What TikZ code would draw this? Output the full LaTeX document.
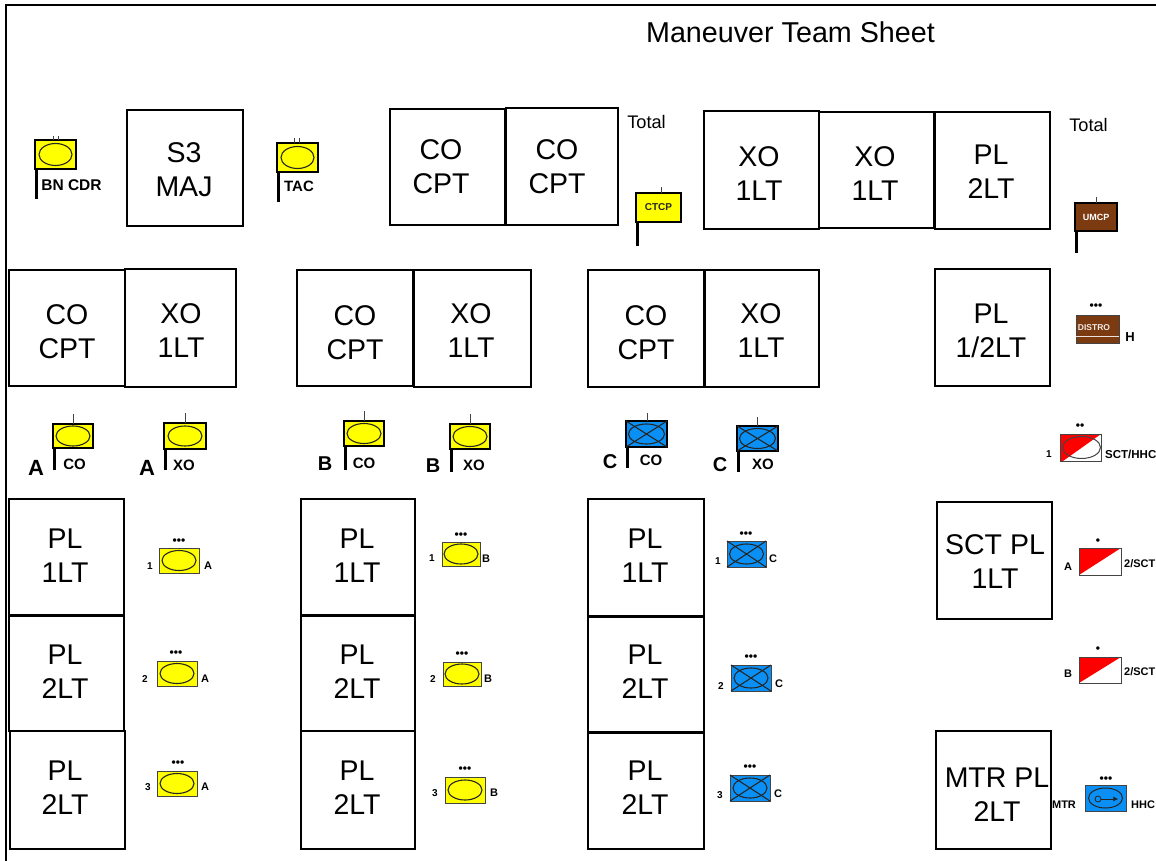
\documentclass[tikz,border=0pt]{standalone}
\usepackage{fontspec}
\usetikzlibrary{arrows.meta}
\setmainfont{Liberation Sans}
\definecolor{symyellow}{HTML}{FFFF00}
\definecolor{symblue}{HTML}{0A90F5}
\definecolor{symbrown}{HTML}{7B3A10}
\definecolor{symred}{HTML}{FF0000}
\definecolor{edgegray}{HTML}{444444}
\tikzset{
  x=1pt,y=-1pt,
  sheetbox/.style={draw=black,line width=2pt,inner sep=0pt,outer sep=0pt},
  boxtext/.style={inner sep=0pt,align=center,font=\fontsize{28.5}{34}\selectfont},
  symbox/.style={draw=black,line width=1.5pt,inner sep=0pt,outer sep=0pt},
  platbox/.style={draw=edgegray,line width=1pt,inner sep=0pt,outer sep=0pt},
  pole/.style={line width=3pt,black},
  staff/.style={line width=.8pt,edgegray},
  oval/.style={draw=black!85,line width=1.1pt},
  lab/.style={inner sep=0pt,font=\bfseries\fontsize{#1}{#1}\selectfont},
  lab/.default=12,
  dots/.style={inner sep=0pt,font=\bfseries\fontsize{12}{12}\selectfont},
  plain/.style={inner sep=0pt,font=\fontsize{#1}{#1}\selectfont},
}
% name x0 y0 x1 y1 textx texty line1 line2
\newcommand{\bx}[9]{%
  \node[sheetbox,minimum width={(#4-#2)*1pt},minimum height={(#5-#3)*1pt}] (#1) at ({(#2+#4)/2+.5},{(#3+#5)/2+.5}) {};
  \node[boxtext] (#1t) at (#6,#7) {#8\\#9};}
% name x0 y0 x1 y1 style-with-fill
\newcommand{\sy}[6]{%
  \node[#6,minimum width={(#4-#2)*1pt},minimum height={(#5-#3)*1pt}] (#1) at ({(#2+#4)/2},{(#3+#5)/2}) {};}
% name x0 y0 x1 y1 colour poleEnd tickX tickTop
\newcommand{\flagsym}[9]{%
  \sy{#1}{#2}{#3}{#4}{#5}{symbox,fill=#6}
  \draw[pole] (#1.south west) ++(1,0) -- ++(0,{#7-#5});
  \draw[staff] (#8,#3) -- (#8,#9);}
\newcommand{\ov}[3]{\draw[oval] (#1.center) ellipse [x radius=#2pt,y radius=#3pt];}
\newcommand{\crs}[1]{\draw[oval] (#1.north west) -- (#1.south east) (#1.south west) -- (#1.north east);}
\newcommand{\plat}[6]{\sy{#1}{#2}{#3}{#4}{#5}{platbox,fill=#6}}
\begin{document}
\begin{tikzpicture}
\useasboundingbox (0,0) rectangle (1156,861);
\fill[white] (0,0) rectangle (1156,861);
\coordinate (frameA) at (6,861);
\coordinate (frameB) at (6,5);
\coordinate (frameC) at (1156,5);
\draw[line width=2pt] (frameA) -- (frameB) -- (frameC);

\node[plain=28.7] (title) at (790.5,32) {Maneuver Team Sheet};
\node[plain=18.2] (total1) at (646.5,122) {Total};
\node[plain=18.2] (total2) at (1088.5,125) {Total};

% boxes
\bx{b1}{126}{110}{242}{225}{184}{170}{S3}{MAJ}
\bx{b2}{389}{109}{504}{224}{441}{167}{CO}{CPT}
\bx{b3}{505}{108}{617}{224}{557}{167}{CO}{CPT}
\bx{b4}{703}{111}{818}{228}{759}{174}{XO}{1LT}
\bx{b5}{818}{112}{933}{227}{875}{174}{XO}{1LT}
\bx{b6}{934}{112}{1049}{228}{991}{172}{PL}{2LT}
\bx{c1}{8}{269}{124}{385}{67}{332}{CO}{CPT}
\bx{c2}{124}{268}{235}{386}{181}{331}{XO}{1LT}
\bx{c3}{296}{269}{412}{385}{355}{333}{CO}{CPT}
\bx{c4}{413}{269}{530}{386}{471}{331}{XO}{1LT}
\bx{c5}{587}{269}{703}{386}{646}{333}{CO}{CPT}
\bx{c6}{704}{269}{818}{386}{761}{331}{XO}{1LT}
\bx{c7}{934}{268}{1049}{385}{991}{331}{PL}{1/2LT}
\bx{d1}{8}{498}{123}{614}{65}{556}{PL}{1LT}
\bx{d2}{8}{615}{123}{730}{65}{672}{PL}{2LT}
\bx{d3}{9}{730}{124}{848}{65}{788}{PL}{2LT}
\bx{e1}{300}{498}{414}{614}{357}{556}{PL}{1LT}
\bx{e2}{300}{615}{414}{730}{357}{672}{PL}{2LT}
\bx{e3}{300}{730}{414}{848}{357}{788}{PL}{2LT}
\bx{f1}{587}{498}{703}{615}{645}{556}{PL}{1LT}
\bx{f2}{587}{616}{703}{731}{645}{672}{PL}{2LT}
\bx{f3}{587}{732}{703}{848}{645}{788}{PL}{2LT}
\bx{g1}{936}{501}{1051}{618}{995}{562}{SCT PL}{1LT}
\bx{g2}{935}{730}{1050}{848}{997}{795}{MTR PL}{2LT}

% top flags
\flagsym{bn}{35}{140}{76}{169}{symyellow}{199}{53}{136}
\draw[staff] (58,140) -- (58,136);
\ov{bn}{16.5}{11}
\node[lab=15.5] (bnl) at (71.5,185) {BN CDR};
\flagsym{tac}{277}{143}{318}{172}{symyellow}{202}{294}{138}
\draw[staff] (299,143) -- (299,138);
\ov{tac}{16.5}{11}
\node[lab=15] (tacl) at (299,186) {TAC};
\flagsym{ctcp}{636}{193}{681}{222}{symyellow}{246}{661}{187}
\node[lab=10,text=black!85] (ctcpl) at (ctcp.center) {CTCP};
\flagsym{umcp}{1075}{203}{1117}{231}{symbrown}{253}{1096}{197}
\node[lab=9,text=white] (umcpl) at (umcp.center) {UMCP};

% company flags
\flagsym{aco}{53}{424}{93}{448}{symyellow}{470}{73}{414}
\ov{aco}{17}{10}
\node[lab=15] (acol) at (74.5,464) {CO};
\node[lab=22] (acoa) at (36,468) {A};
\flagsym{axo}{164}{423}{206}{449}{symyellow}{470}{185}{413}
\ov{axo}{17}{10}
\node[lab=15] (axol) at (184,465) {XO};
\node[lab=22] (axoa) at (147,468) {A};
\flagsym{bco}{344}{421}{384}{446}{symyellow}{470}{364}{411}
\ov{bco}{17}{10}
\node[lab=15] (bcol) at (364,463) {CO};
\node[lab=20] (bcoa) at (325,464) {B};
\flagsym{bxo}{450}{424}{490}{449}{symyellow}{472}{470}{414}
\ov{bxo}{17}{10}
\node[lab=15] (bxol) at (474,465) {XO};
\node[lab=20] (bxoa) at (433,466) {B};
\flagsym{cco}{626}{421}{667}{447}{symblue}{468}{647}{413}
\ov{cco}{18}{10}\crs{cco}
\node[lab=15] (ccol) at (651,460) {CO};
\node[lab=20] (ccoa) at (610,462) {C};
\flagsym{cxo}{737}{426}{778}{451}{symblue}{472}{757}{417}
\ov{cxo}{18}{10}\crs{cxo}
\node[lab=15] (cxol) at (763,464) {XO};
\node[lab=20] (cxoa) at (720,465) {C};

% platoon symbols: yellow
\plat{a1}{159}{548}{199}{573}{symyellow}\ov{a1}{17}{10}
\node[dots] (a1d) at (179,542) {•••};
\node[lab=10] (a1n) at (150,566) {1};
\node[lab=11] (a1c) at (208,566) {A};
\plat{a2}{157}{661}{197}{686}{symyellow}\ov{a2}{17}{10}
\node[dots] (a2d) at (176,654) {•••};
\node[lab=10] (a2n) at (145,679) {2};
\node[lab=11] (a2c) at (205,679) {A};
\plat{a3}{157}{771}{197}{796}{symyellow}\ov{a3}{17}{10}
\node[dots] (a3d) at (178,764) {•••};
\node[lab=10] (a3n) at (148,787) {3};
\node[lab=11] (a3c) at (205,787) {A};
\plat{p1}{442}{542}{480}{566}{symyellow}\ov{p1}{17}{10}
\node[dots] (p1d) at (461,536) {•••};
\node[lab=10] (p1n) at (432,558) {1};
\node[lab=11] (p1c) at (486,559) {B};
\plat{p2}{443}{662}{481}{686}{symyellow}\ov{p2}{17}{10}
\node[dots] (p2d) at (462,655) {•••};
\node[lab=10] (p2n) at (433,679) {2};
\node[lab=11] (p2c) at (488,679) {B};
\plat{p3}{445}{777}{485}{803}{symyellow}\ov{p3}{17}{10}
\node[dots] (p3d) at (465,770) {•••};
\node[lab=10] (p3n) at (435,793) {3};
\node[lab=11] (p3c) at (494,793) {B};
% blue
\plat{q1}{727}{541}{766}{567}{symblue}\ov{q1}{17}{10}\crs{q1}
\node[dots] (q1d) at (746,535) {•••};
\node[lab=10] (q1n) at (718,561) {1};
\node[lab=11] (q1c) at (773,559) {C};
\plat{q2}{731}{665}{771}{691}{symblue}\ov{q2}{17}{10}\crs{q2}
\node[dots] (q2d) at (751,658) {•••};
\node[lab=10] (q2n) at (721,686) {2};
\node[lab=11] (q2c) at (779,684) {C};
\plat{q3}{730}{775}{770}{801}{symblue}\ov{q3}{17}{10}\crs{q3}
\node[dots] (q3d) at (750,768) {•••};
\node[lab=10] (q3n) at (720,795) {3};
\node[lab=11] (q3c) at (778,794) {C};

% right column
\plat{dis}{1076}{315}{1119}{343}{symbrown}
\draw[line width=1pt,white!85!symbrown] (dis.west |- 0,336) -- (dis.east |- 0,336);
\node[lab=8.5,text=white!90!symbrown] (disl) at (1094,328) {DISTRO};
\node[dots] (disd) at (1096,307) {•••};
\node[lab=13] (dish) at (1130,337) {H};

\plat{sc}{1060}{434}{1101}{461}{white}
\fill[symred] (sc.north west) -- (sc.north east) -- (1063,461) -- (sc.south west) -- cycle;
\draw[platbox,fill=none] (sc.north west) rectangle (sc.south east);
\draw[draw=edgegray,line width=1pt] (sc.center) ++(1,0) ellipse [x radius=19pt,y radius=11pt];
\node[dots] (scd) at (1080,427) {••};
\node[lab=10] (scn) at (1049,454) {1};
\node[lab=11.5,anchor=west] (scl) at (1105,454) {SCT/HHC};

\plat{sa}{1079}{548}{1121}{575}{white}
\fill[symred] (sa.north west) -- (sa.north east) -- (sa.south west) -- cycle;
\draw[platbox,fill=none] (sa.north west) rectangle (sa.south east);
\node[dots] (sad) at (1098,542) {•};
\node[lab=11] (san) at (1068,567) {A};
\node[lab=11,anchor=west] (sal) at (1124,564) {2/SCT};

\plat{sb}{1079}{657}{1121}{683}{white}
\fill[symred] (sb.north west) -- (sb.north east) -- (sb.south west) -- cycle;
\draw[platbox,fill=none] (sb.north west) rectangle (sb.south east);
\node[dots] (sbd) at (1098,650) {•};
\node[lab=11] (sbn) at (1068,674) {B};
\node[lab=11,anchor=west] (sbl) at (1124,672) {2/SCT};

\plat{mt}{1085}{785}{1126}{811}{symblue}
\draw[draw=black!85,line width=1pt] (mt.center) ellipse [x radius=17pt,y radius=10pt];
\node[draw=black!85,line width=.8pt,circle,minimum size=6pt,inner sep=0pt] (mto) at (1098,799) {};
\node[inner sep=0pt,minimum size=1pt] (mte) at (1119,799) {};
\draw[-{Latex[length=5pt,width=5pt]},draw=black!85,line width=.8pt] (mto) -- (mte);
\node[dots] (mtd) at (1106,780) {•••};
\node[lab=11] (mtn) at (1064,805) {MTR};
\node[lab=11,anchor=west] (mtl) at (1131,805) {HHC};
\end{tikzpicture}
\end{document}
